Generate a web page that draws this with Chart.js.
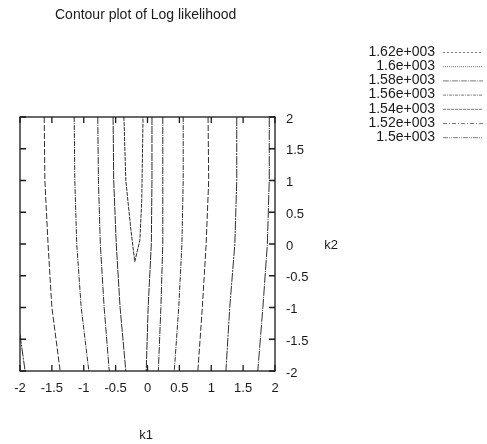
<!DOCTYPE html>
<html>
<head>
<meta charset="utf-8">
<title>Contour plot of Log likelihood</title>
<script src="https://cdn.jsdelivr.net/npm/chart.js@4/dist/chart.umd.min.js"></script>
<style>
  html, body { margin: 0; padding: 0; background: #fff; }
  canvas { display: block; }
</style>
</head>
<body>
<canvas id="chart" width="487" height="444"></canvas>
<script>
const TITLE = 'Contour plot of Log likelihood';
const X_LABEL = 'k1';
const Y_LABEL = 'k2';

// contour levels, in key order
const levelLabels = ['1.62e+003', '1.6e+003', '1.58e+003', '1.56e+003', '1.54e+003', '1.52e+003', '1.5e+003'];

// tick values and their labels, same on both axes
const tickValues = [-2, -1.5, -1, -0.5, 0, 0.5, 1, 1.5, 2];
const tickLabels = ['-2', '-1.5', '-1', '-0.5', '0', '0.5', '1', '1.5', '2'];

const k2Rows = [2, 1, 0, -1, -2];

// k1 of each long contour at k2Rows (left to right)
const lineA = [-1.62, -1.61, -1.56, -1.50, -1.37];
const lineB = [-1.15, -1.14, -1.11, -1.04, -0.92];
const lineC = [-0.78, -0.77, -0.74, -0.68, -0.60];
const lineD = [-0.54, -0.53, -0.49, -0.43, -0.34];
const lineE = [0.07, 0.07, 0.06, 0.01, -0.02];
const lineF = [0.24, 0.24, 0.24, 0.21, 0.17];
const lineG = [0.56, 0.56, 0.54, 0.49, 0.42];
const lineH = [0.95, 0.96, 0.92, 0.86, 0.79];
const lineI = [1.40, 1.40, 1.37, 1.29, 1.23];
const lineJ = [1.91, 1.91, 1.88, 1.81, 1.73];

// the V near the maximum
const vK1 = [-0.37, -0.34, -0.26, -0.20, -0.12, -0.09, -0.07];
const vK2 = [2, 1, 0.22, -0.28, 0.06, 0.69, 2];

// short piece in the lower left corner
const cornerK1 = [-2, -1.92];
const cornerK2 = [-1.43, -2];

// index into levelLabels for every contour
const contourLevels = [5, 4, 3, 2, 1, 0, 1, 2, 3, 4, 5, 6];

// dash pattern per level (gnuplot style lines)
const DASHES = [
  [4, 1],
  [8, 1],
  [7, 1, 1, 1],
  [5, 1, 1, 1],
  [6, 2],
  [9, 1, 2, 1],
  [10, 1, 1, 1]
];

// the key samples show the patterns more openly
const KEY_DASHES = [
  [2, 2],
  [1, 1],
  [6, 1, 1, 1],
  [3, 1, 1, 1],
  [3, 1],
  [4, 2, 1, 2],
  [5, 1, 1, 1, 1, 1]
];

const FONT = '"Liberation Sans", Arial, Helvetica, sans-serif';
const INK = '#1a1a1a';

/**
 * @param {number[]} xs
 * @param {number[]} ys
 * @param {number} level
 */
function contour (xs, ys, level) {
  return {
    label: levelLabels[level],
    data: xs.map((x, i) => ({ x, y: ys[i] })),
    showLine: true,
    borderColor: '#2e2e2e',
    borderWidth: 1,
    borderDash: DASHES[level],
    pointRadius: 0,
    tension: 0,
    fill: false
  };
}

const contours = [
  [cornerK1, cornerK2],
  [lineA, k2Rows], [lineB, k2Rows], [lineC, k2Rows], [lineD, k2Rows],
  [vK1, vK2],
  [lineE, k2Rows], [lineF, k2Rows], [lineG, k2Rows], [lineH, k2Rows],
  [lineI, k2Rows], [lineJ, k2Rows]
];

const datasets = contours.map(([xs, ys], i) => contour(xs, ys, contourLevels[i]));

// frame with inward ticks on all four sides, titles and the key
const framePlugin = {
  id: 'gnuplotFrame',
  afterDatasetsDraw (chart) {
    const { ctx, chartArea: a, scales } = chart;
    const tl = 6;

    ctx.save();
    ctx.strokeStyle = INK;
    ctx.lineWidth = 1.3;
    ctx.setLineDash([]);
    ctx.strokeRect(a.left, a.top, a.right - a.left, a.bottom - a.top);

    ctx.beginPath();
    tickValues.forEach(v => {
      const x = scales.x.getPixelForValue(v);
      ctx.moveTo(x, a.bottom); ctx.lineTo(x, a.bottom - tl);
      ctx.moveTo(x, a.top); ctx.lineTo(x, a.top + tl);
      const y = scales.y.getPixelForValue(v);
      ctx.moveTo(a.left, y); ctx.lineTo(a.left + tl, y);
      ctx.moveTo(a.right, y); ctx.lineTo(a.right - tl, y);
    });
    ctx.stroke();
    ctx.restore();
  },
  afterDraw (chart) {
    const { ctx } = chart;

    ctx.save();
    ctx.fillStyle = INK;
    ctx.textBaseline = 'middle';

    ctx.font = '14px ' + FONT;
    ctx.textAlign = 'left';
    ctx.fillText(TITLE, 55, 15);

    ctx.font = '13px ' + FONT;
    ctx.textAlign = 'center';
    ctx.fillText(X_LABEL, 146, 435);
    ctx.fillText(Y_LABEL, 331, 245);

    // key
    ctx.font = '14px ' + FONT;
    levelLabels.forEach((label, i) => {
      const y = 52 + i * 14.2;
      ctx.textAlign = 'right';
      ctx.fillText(label, 435, y);

      ctx.beginPath();
      ctx.strokeStyle = '#7a7a7a';
      ctx.lineWidth = 1;
      ctx.setLineDash(KEY_DASHES[i]);
      ctx.moveTo(443, y + 0.5);
      ctx.lineTo(483, y + 0.5);
      ctx.stroke();
    });
    ctx.restore();
  }
};

const setTicks = scale => {
  scale.ticks = tickValues.map(value => ({ value }));
};

const tickText = value => tickLabels[tickValues.indexOf(value)];

new Chart(document.getElementById('chart'), {
  type: 'scatter',
  data: { datasets },
  options: {
    responsive: false,
    animation: false,
    devicePixelRatio: 1,
    layout: {
      padding: { left: 20, top: 117, right: 152, bottom: 43 }
    },
    plugins: {
      legend: { display: false },
      tooltip: { enabled: false },
      title: { display: false }
    },
    scales: {
      x: {
        type: 'linear',
        position: 'bottom',
        min: -2,
        max: 2,
        afterBuildTicks: setTicks,
        afterFit: scale => { scale.height = 30; },
        grid: { display: false, drawTicks: false },
        border: { display: false },
        ticks: {
          padding: 10,
          color: INK,
          callback: tickText,
          font: { family: FONT, size: 13 }
        }
      },
      y: {
        type: 'linear',
        position: 'right',
        min: -2,
        max: 2,
        afterBuildTicks: setTicks,
        afterFit: scale => { scale.width = 60; },
        grid: { display: false, drawTicks: false },
        border: { display: false },
        ticks: {
          padding: 11,
          labelOffset: 2,
          color: INK,
          callback: tickText,
          font: { family: FONT, size: 13 }
        }
      }
    }
  },
  plugins: [framePlugin]
});
</script>
</body>
</html>
